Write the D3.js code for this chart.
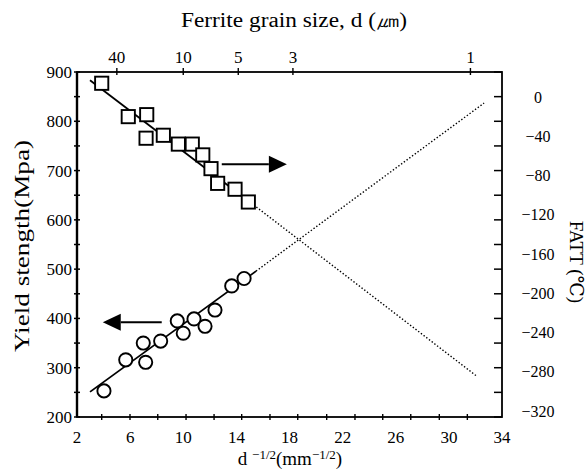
<!DOCTYPE html>
<html><head><meta charset="utf-8">
<script src="https://cdn.jsdelivr.net/npm/d3@7"></script>
<style>body{margin:0;background:#fff}svg{display:block}</style>
</head><body>
<svg id="chart" width="587" height="469"></svg>
<script>
// ---------------- data ----------------
const xTickLabels = [2, 6, 10, 14, 18, 22, 26, 30, 34];
const xMinorTicks = [3.86, 5.99, 8.08, 10.21, 12.32, 14.40, 16.53, 18.62, 20.80, 22.93, 25.02, 27.13, 29.28, 31.39];
const yLeftTicks = [200, 300, 400, 500, 600, 700, 800, 900];
const yLeftMinor = [250, 350, 450, 550, 650, 750, 850];
const fattTicks = [0, -40, -80, -120, -160, -200, -240, -280, -320];
const grainSizes = [40, 10, 5, 3, 1]; // µm, top axis

// yield strength (circles)
const ysX = [4.03, 5.67, 6.99, 7.17, 8.30, 9.55, 10.0, 10.81, 11.64, 12.39, 13.65, 14.58];
const ysY = [253, 316, 350, 311, 354, 395, 370, 399, 384, 417, 466, 481];
// FATT (squares)
const fattX = [3.86, 5.86, 7.25, 7.20, 8.50, 9.63, 10.68, 11.47, 12.09, 12.59, 13.90, 14.90];
const fattY = [14, -20, -18, -42, -39, -48, -48, -59, -73, -88, -94, -107];

// fit lines [x, value]
const ysFitSolid = [[2.98, 251], [15.48, 496]];
const ysFitDotted = [[15.48, 496], [32.65, 837]];
const fattFitSolid = [[2.98, 17], [15.3, -110]];
const fattFitDotted = [[15.3, -110], [32.05, -284]];

// arrows (x from, x to, yield-strength level)
const leftArrow = [8.38, 3.94, 392];
const rightArrow = [12.9, 17.8, 713];

// ---------------- drawing ----------------
const svg = d3.select("#chart");
const L = 77, R = 502, T = 72, B = 417;
const x = d3.scaleLinear().domain([2, 34]).range([L, R]);
const yL = d3.scaleLinear().domain([200, 900]).range([B, T]);
const yR = d3.scaleLinear().domain([-320, 0]).range([411, 97]);
const font = "'Liberation Serif', 'DejaVu Serif', serif";

// frame
svg.append("rect").attr("x", L).attr("y", T).attr("width", R - L).attr("height", B - T)
  .attr("fill", "none").attr("stroke", "#000").attr("stroke-width", 1.8);
svg.append("line").attr("x1", L).attr("x2", L).attr("y1", T).attr("y2", B)
  .attr("stroke", "#000").attr("stroke-width", 2.4);

// left ticks (crossing)
svg.selectAll(".lt").data(yLeftTicks.concat(yLeftMinor)).join("line")
  .attr("x1", L - 3).attr("x2", L + 3).attr("y1", d => yL(d)).attr("y2", d => yL(d))
  .attr("stroke", "#000").attr("stroke-width", 1.5);
// right ticks (inward) at same levels
svg.selectAll(".rt").data(yLeftTicks.concat(yLeftMinor)).join("line")
  .attr("x1", R - 8).attr("x2", R).attr("y1", d => yL(d)).attr("y2", d => yL(d))
  .attr("stroke", "#000").attr("stroke-width", 1.5);
// bottom ticks
svg.selectAll(".bt").data(xMinorTicks).join("line")
  .attr("x1", d => x(d)).attr("x2", d => x(d)).attr("y1", B - 3).attr("y2", B + 3)
  .attr("stroke", "#000").attr("stroke-width", 1.4);
// top ticks
const gx = d => 1 / Math.sqrt(d / 1000);
svg.selectAll(".tt").data(grainSizes).join("line")
  .attr("x1", d => x(gx(d))).attr("x2", d => x(gx(d))).attr("y1", T - 4).attr("y2", T + 3)
  .attr("stroke", "#000").attr("stroke-width", 1.4);

// tick labels
svg.selectAll(".ll").data(yLeftTicks).join("text")
  .attr("x", 72).attr("y", d => yL(d)).attr("dy", "0.35em")
  .attr("text-anchor", "end").attr("font-family", font).attr("font-size", 17).text(d => d);
svg.selectAll(".bl").data(xTickLabels).join("text")
  .attr("x", d => x(d)).attr("y", 443)
  .attr("text-anchor", "middle").attr("font-family", font).attr("font-size", 17).text(d => d);
svg.selectAll(".tl").data(grainSizes).join("text")
  .attr("x", d => x(gx(d))).attr("y", 63)
  .attr("text-anchor", "middle").attr("font-family", font).attr("font-size", 17).text(d => d);
svg.selectAll(".rl").data(fattTicks).join("text")
  .attr("x", 538).attr("y", d => yR(d)).attr("dy", "0.35em")
  .attr("text-anchor", "middle").attr("font-family", font).attr("font-size", 16)
  .text(d => d < 0 ? "\u2212" + Math.abs(d) : d);

// titles
svg.append("text").attr("x", 294).attr("y", 27).attr("text-anchor", "middle")
  .attr("font-family", font).attr("font-size", 20)
  .attr("textLength", 226).attr("lengthAdjust", "spacingAndGlyphs")
  .text("Ferrite grain size, d (\u339B)");
svg.append("text").attr("transform", "translate(29,246) rotate(-90)").attr("text-anchor", "middle")
  .attr("font-family", font).attr("font-size", 21)
  .attr("textLength", 212).attr("lengthAdjust", "spacingAndGlyphs")
  .text("Yield stength(Mpa)");
svg.append("text").attr("transform", "translate(570,262) rotate(90)").attr("text-anchor", "middle")
  .attr("font-family", font).attr("font-size", 19).text("FATT (\u2103)");
const xt = svg.append("text").attr("x", 290).attr("y", 465).attr("text-anchor", "middle")
  .attr("font-family", font).attr("font-size", 19);
xt.append("tspan").text("d ");
xt.append("tspan").attr("font-size", 13).attr("dy", -6).text("\u22121/2");
xt.append("tspan").attr("dy", 6).text("(mm");
xt.append("tspan").attr("font-size", 13).attr("dy", -6).text("\u22121/2");
xt.append("tspan").attr("dy", 6).text(")");

// fit lines
const line = d3.line();
svg.append("path").attr("d", line(ysFitSolid.map(p => [x(p[0]), yL(p[1])])))
  .attr("stroke", "#000").attr("stroke-width", 1.8).attr("fill", "none");
svg.append("path").attr("d", line(ysFitDotted.map(p => [x(p[0]), yL(p[1])])))
  .attr("stroke", "#000").attr("stroke-width", 1.4).attr("stroke-dasharray", "1.4,2").attr("fill", "none");
svg.append("path").attr("d", line(fattFitSolid.map(p => [x(p[0]), yR(p[1])])))
  .attr("stroke", "#000").attr("stroke-width", 1.8).attr("fill", "none");
svg.append("path").attr("d", line(fattFitDotted.map(p => [x(p[0]), yR(p[1])])))
  .attr("stroke", "#000").attr("stroke-width", 1.4).attr("stroke-dasharray", "1.4,2").attr("fill", "none");

// markers
svg.selectAll(".c").data(ysX).join("circle")
  .attr("cx", d => x(d)).attr("cy", (d, i) => yL(ysY[i])).attr("r", 6.6)
  .attr("fill", "#fff").attr("stroke", "#000").attr("stroke-width", 1.9);
const s = 13.2;
svg.selectAll(".s").data(fattX).join("rect")
  .attr("x", d => x(d) - s / 2).attr("y", (d, i) => yR(fattY[i]) - s / 2)
  .attr("width", s).attr("height", s)
  .attr("fill", "#fff").attr("stroke", "#000").attr("stroke-width", 1.9);

// arrows
function arrow(a) {
  const x0 = x(a[0]), x1 = x(a[1]), yy = yL(a[2]);
  const dir = Math.sign(x1 - x0), hl = 18, hw = 8.5;
  svg.append("line").attr("x1", x0).attr("x2", x1 - dir * hl).attr("y1", yy).attr("y2", yy)
    .attr("stroke", "#000").attr("stroke-width", 2);
  svg.append("path").attr("d", `M${x1},${yy}L${x1 - dir * hl},${yy - hw}L${x1 - dir * hl},${yy + hw}Z`)
    .attr("fill", "#000");
}
arrow(leftArrow);
arrow(rightArrow);
</script>
</body></html>
